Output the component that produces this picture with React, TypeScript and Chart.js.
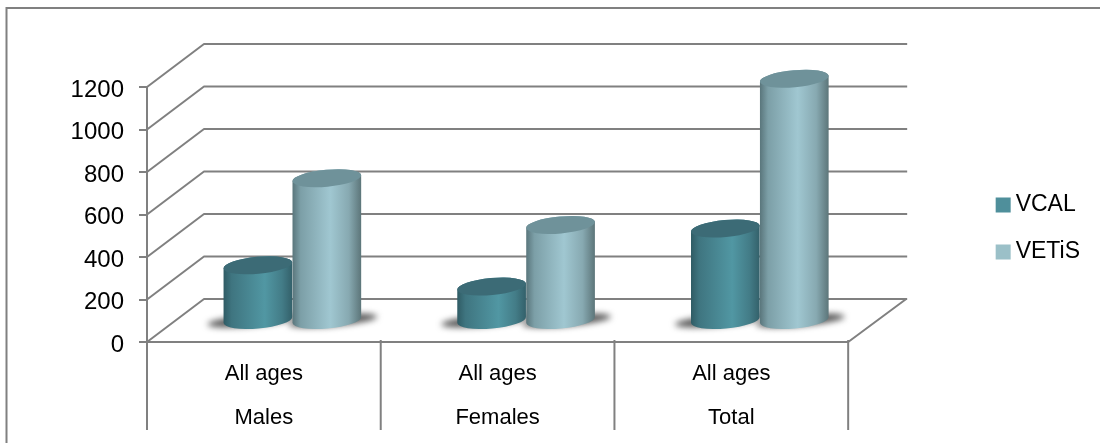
import React, { useEffect, useRef } from "react";
import { Chart, registerables } from "chart.js";

Chart.register(...registerables);

const groups = ["Males", "Females", "Total"];
const subLabel = "All ages";
const vcal = [262, 162, 435];
const vetis = [672, 452, 1140];
const yMax = 1200;
const yStep = 200;

const FONT = '"Liberation Sans", Arial, sans-serif';
const GRID = "#808080";
const BACK_DX = 57;
const BACK_DY = 43;
const BAR_DX = 28.5;
const BAR_DY = 21;
const TILT = -0.09;

type Shade = { solid: string; stops: [number, string][]; top: string };
const shades: Shade[] = [
  {
    solid: "#4f8f9b",
    top: "#3c6b76",
    stops: [[0, "#2f5b64"], [0.12, "#3f7580"], [0.6, "#5197a3"], [0.85, "#437c87"], [1, "#33606a"]],
  },
  {
    solid: "#9bc0c8",
    top: "#6f929a",
    stops: [[0, "#59757b"], [0.12, "#7c9fa7"], [0.55, "#a0c7d1"], [0.82, "#87a9b1"], [1, "#5c7579"]],
  },
];

const scene = {
  id: "scene",
  beforeDraw(chart: any) {
    const { ctx, width, height } = chart;
    ctx.save();
    ctx.fillStyle = "#fff";
    ctx.fillRect(0, 0, width, height);
    ctx.strokeStyle = GRID;
    ctx.lineWidth = 2;
    ctx.beginPath();
    ctx.moveTo(6.5, height);
    ctx.lineTo(6.5, 8);
    ctx.lineTo(width, 8);
    ctx.stroke();
    ctx.restore();
  },
  beforeDatasetsDraw(chart: any) {
    const { ctx } = chart;
    const area = chart.chartArea;
    const y = chart.scales.y;
    const x = chart.scales.x;
    ctx.save();
    ctx.strokeStyle = GRID;
    ctx.lineWidth = 2;
    ctx.lineJoin = "round";
    for (const t of y.ticks) {
      const py = y.getPixelForValue(t.value);
      ctx.beginPath();
      ctx.moveTo(area.left, py);
      ctx.lineTo(area.left + BACK_DX, py - BACK_DY);
      ctx.lineTo(area.right + BACK_DX + 2, py - BACK_DY);
      ctx.stroke();
    }
    // floor
    const base = y.getPixelForValue(0);
    ctx.beginPath();
    ctx.moveTo(area.left, base);
    ctx.lineTo(area.right, base);
    ctx.lineTo(area.right + BACK_DX + 1, base - BACK_DY);
    ctx.stroke();
    // category dividers below the floor
    const step = (area.right - area.left) / groups.length;
    for (let i = 0; i <= groups.length; i++) {
      const px = x.left + step * i;
      ctx.beginPath();
      ctx.moveTo(px, base - (i === 0 ? 0 : 2));
      ctx.lineTo(px, 430);
      ctx.stroke();
    }
    ctx.restore();
  },
  beforeDatasetDraw() {
    return false;
  },
  afterDatasetsDraw(chart: any) {
    const { ctx } = chart;
    const count = chart.data.datasets.length;
    // shadows first
    for (let d = 0; d < count; d++) {
      for (const el of chart.getDatasetMeta(d).data) {
        const p = el.getProps(["x", "base", "width"], true);
        ctx.save();
        ctx.filter = "blur(3px)";
        ctx.fillStyle = "#555555";
        ctx.beginPath();
        ctx.ellipse(p.x + BAR_DX + (d === 0 ? -6 : 6), p.base - BAR_DY + 0.5, p.width / 2 + 10, 5.5, TILT, 0, Math.PI * 2);
        ctx.fill();
        ctx.restore();
      }
    }
    for (let d = 0; d < count; d++) {
      const shade = shades[d];
      for (const el of chart.getDatasetMeta(d).data) {
        const p = el.getProps(["x", "y", "base", "width"], true);
        const cx = p.x + BAR_DX;
        const top = p.y - BAR_DY;
        const base = p.base - BAR_DY;
        const rx = p.width / 2;
        const ry = 8.5;
        const g = ctx.createLinearGradient(cx - rx, 0, cx + rx, 0);
        for (const [o, c] of shade.stops) g.addColorStop(o, c);
        ctx.save();
        ctx.fillStyle = g;
        ctx.beginPath();
        ctx.ellipse(cx, top, rx, ry, TILT, Math.PI, 0, false);
        ctx.ellipse(cx, base, rx, ry, TILT, 0, Math.PI, false);
        ctx.closePath();
        ctx.fill();
        ctx.fillStyle = shade.top;
        ctx.beginPath();
        ctx.ellipse(cx, top, rx, ry, TILT, 0, Math.PI * 2);
        ctx.fill();
        ctx.restore();
      }
    }
  },
};

export default function App() {
  const ref = useRef<HTMLCanvasElement | null>(null);
  useEffect(() => {
    document.body.style.margin = "0";
    const chart = new Chart(ref.current as HTMLCanvasElement, {
      type: "bar",
      data: {
        labels: groups.map((g) => [subLabel, g]),
        datasets: [
          { label: "VCAL", data: vcal, backgroundColor: shades[0].solid, borderWidth: 0 },
          { label: "VETiS", data: vetis, backgroundColor: shades[1].solid, borderWidth: 0 },
        ],
      },
      options: {
        responsive: false,
        animation: false,
        devicePixelRatio: 1,
        layout: { padding: { top: 14, left: 0, right: 10, bottom: 0 } },
        datasets: { bar: { categoryPercentage: 0.59, barPercentage: 1 } },
        plugins: {
          tooltip: { enabled: false },
          legend: {
            position: "right",
            labels: {
              usePointStyle: true,
              pointStyle: "rect",
              boxWidth: 2,
              boxHeight: 15,
              padding: 24,
              color: "#000",
              font: { family: FONT, size: 23 },
            },
          },
        },
        scales: {
          x: {
            position: "bottom",
            grid: { display: false },
            border: { display: false },
            ticks: {
              color: "#000",
              padding: 2,
              maxRotation: 0,
              autoSkip: false,
              font: { family: FONT, size: 22, lineHeight: 2 },
            },
            afterFit: (s: any) => { s.height = 101; },
          },
          y: {
            position: "left",
            min: 0,
            max: yMax,
            grid: { drawOnChartArea: false, color: GRID, lineWidth: 2, tickLength: 8 },
            border: { display: true, color: GRID, width: 2 },
            ticks: {
              stepSize: yStep,
              color: "#000",
              padding: 15,
              labelOffset: 3,
              callback: (v: any) => String(v),
              font: { family: FONT, size: 24 },
            },
            afterFit: (s: any) => { s.width = 147; },
          },
          spacerRight: {
            type: "linear",
            axis: "y",
            position: "right",
            grid: { display: false },
            border: { display: false },
            ticks: { display: false },
            afterFit: (s: any) => { s.width = 130; },
          },
          spacerTop: {
            type: "linear",
            axis: "x",
            position: "top",
            grid: { display: false },
            border: { display: false },
            ticks: { display: false },
            afterFit: (s: any) => { s.height = 73; },
          },
        },
      } as any,
      plugins: [scene as any],
    });
    return () => chart.destroy();
  }, []);
  return (
    <div style={{ width: 1100, height: 443, position: "relative" }}>
      <canvas ref={ref} width={1100} height={443} style={{ display: "block" }} />
    </div>
  );
}
